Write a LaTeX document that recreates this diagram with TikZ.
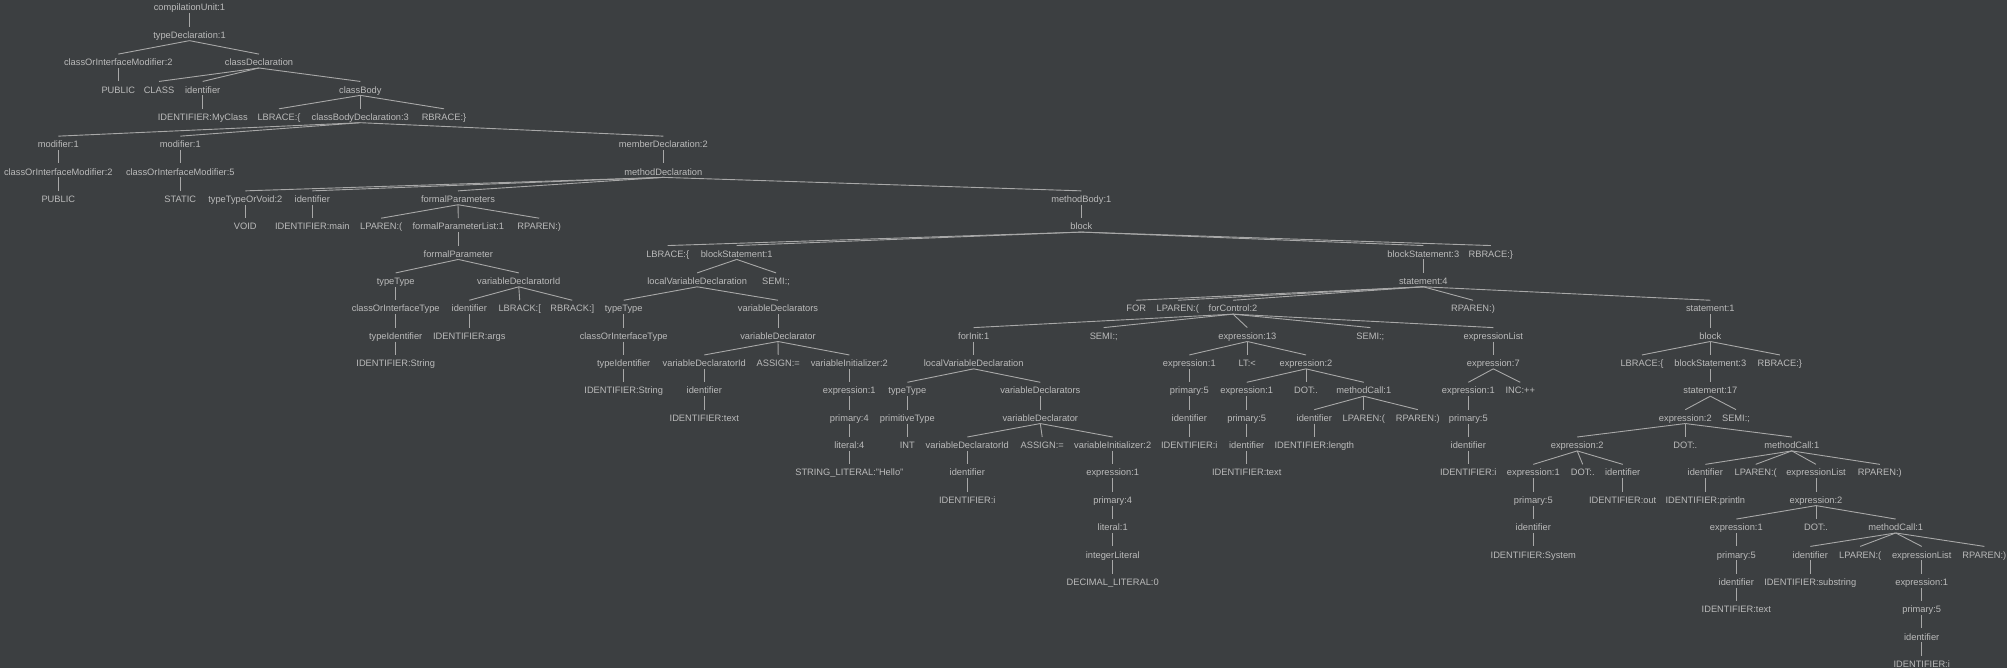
\documentclass[tikz,border=0pt]{standalone}
\usepackage{fontspec}
\setmainfont{Liberation Sans}
\definecolor{bg}{HTML}{3C3F41}
\definecolor{fg}{HTML}{BBBBBB}
\definecolor{ln}{HTML}{A8A8A8}
\tikzset{
  t/.style={anchor=base, text=fg, font=\fontsize{9.3}{10}\selectfont, inner sep=0pt, text height=11.4pt, text depth=2.1pt},
  e/.style={draw=ln, line width=0.9pt}
}
\begin{document}
\begin{tikzpicture}[x=1pt,y=-1pt]
\fill[bg] (0,0) rectangle (2007,668);
\useasboundingbox (0,0) rectangle (2007,668);
% row 0-4
\node[t] (n0) at (189.5,11) {compilationUnit:1};
\node[t] (n1) at (189.5,38.35) {typeDeclaration:1};
\node[t] (n2) at (118.3,65.7) {classOrInterfaceModifier:2};
\node[t] (n3) at (259,65.7) {classDeclaration};
\node[t] (n4) at (118.3,93.05) {PUBLIC};
\node[t] (n5) at (159,93.05) {CLASS};
\node[t] (n6) at (202.7,93.05) {identifier};
\node[t] (n7) at (360.3,93.05) {classBody};
\node[t] (n8) at (202.7,120.4) {IDENTIFIER:MyClass};
\node[t] (n9) at (279,120.4) {LBRACE:\{};
\node[t] (n10) at (360.3,120.4) {classBodyDeclaration:3};
\node[t] (n11) at (444,120.4) {RBRACE:\}};
% row 5
\node[t] (n12) at (58.3,147.75) {modifier:1};
\node[t] (n13) at (180.3,147.75) {modifier:1};
\node[t] (n14) at (663.3,147.75) {memberDeclaration:2};
% row 6
\node[t] (n15) at (58.3,175.1) {classOrInterfaceModifier:2};
\node[t] (n16) at (180.3,175.1) {classOrInterfaceModifier:5};
\node[t] (n17) at (663.3,175.1) {methodDeclaration};
% row 7
\node[t] (n18) at (58.3,202.45) {PUBLIC};
\node[t] (n19) at (180.3,202.45) {STATIC};
\node[t] (n20) at (245.3,202.45) {typeTypeOrVoid:2};
\node[t] (n21) at (312.3,202.45) {identifier};
\node[t] (n22) at (458,202.45) {formalParameters};
\node[t] (n23) at (1081.3,202.45) {methodBody:1};
% row 8
\node[t] (n24) at (245.3,229.8) {VOID};
\node[t] (n25) at (312.3,229.8) {IDENTIFIER:main};
\node[t] (n26) at (381.2,229.8) {LPAREN:(};
\node[t] (n27) at (458.3,229.8) {formalParameterList:1};
\node[t] (n28) at (539.2,229.8) {RPAREN:)};
\node[t] (n29) at (1081.3,229.8) {block};
% row 9
\node[t] (n30) at (458.3,257.15) {formalParameter};
\node[t] (n31) at (667.7,257.15) {LBRACE:\{};
\node[t] (n32) at (736.7,257.15) {blockStatement:1};
\node[t] (n33) at (1423.3,257.15) {blockStatement:3};
\node[t] (n34) at (1490.8,257.15) {RBRACE:\}};
% row 10
\node[t] (n35) at (395.7,284.5) {typeType};
\node[t] (n36) at (518.8,284.5) {variableDeclaratorId};
\node[t] (n37) at (697.2,284.5) {localVariableDeclaration};
\node[t] (n38) at (776,284.5) {SEMI:;};
\node[t] (n39) at (1423.3,284.5) {statement:4};
% row 11
\node[t] (n40) at (395.7,311.85) {classOrInterfaceType};
\node[t] (n41) at (469.3,311.85) {identifier};
\node[t] (n42) at (519.7,311.85) {LBRACK:[};
\node[t] (n43) at (572.3,311.85) {RBRACK:]};
\node[t] (n44) at (623.7,311.85) {typeType};
\node[t] (n45) at (778,311.85) {variableDeclarators};
\node[t] (n46) at (1136.2,311.85) {FOR};
\node[t] (n47) at (1177.8,311.85) {LPAREN:(};
\node[t] (n48) at (1233,311.85) {forControl:2};
\node[t] (n49) at (1473,311.85) {RPAREN:)};
\node[t] (n50) at (1710.3,311.85) {statement:1};
% row 12
\node[t] (n51) at (395.7,339.2) {typeIdentifier};
\node[t] (n52) at (469.3,339.2) {IDENTIFIER:args};
\node[t] (n53) at (623.7,339.2) {classOrInterfaceType};
\node[t] (n54) at (778,339.2) {variableDeclarator};
\node[t] (n55) at (973.7,339.2) {forInit:1};
\node[t] (n56) at (1103.7,339.2) {SEMI:;};
\node[t] (n57) at (1247.3,339.2) {expression:13};
\node[t] (n58) at (1370.3,339.2) {SEMI:;};
\node[t] (n59) at (1493.3,339.2) {expressionList};
\node[t] (n60) at (1710.3,339.2) {block};
% row 13
\node[t] (n61) at (395.7,366.55) {IDENTIFIER:String};
\node[t] (n62) at (623.7,366.55) {typeIdentifier};
\node[t] (n63) at (704.3,366.55) {variableDeclaratorId};
\node[t] (n64) at (778.2,366.55) {ASSIGN:=};
\node[t] (n65) at (849.3,366.55) {variableInitializer:2};
\node[t] (n66) at (973.7,366.55) {localVariableDeclaration};
\node[t] (n67) at (1189.3,366.55) {expression:1};
\node[t] (n68) at (1247.3,366.55) {LT:<};
\node[t] (n69) at (1306,366.55) {expression:2};
\node[t] (n70) at (1493.3,366.55) {expression:7};
\node[t] (n71) at (1642,366.55) {LBRACE:\{};
\node[t] (n72) at (1710.3,366.55) {blockStatement:3};
\node[t] (n73) at (1779.8,366.55) {RBRACE:\}};
% row 14
\node[t] (n74) at (623.7,393.9) {IDENTIFIER:String};
\node[t] (n75) at (704.3,393.9) {identifier};
\node[t] (n76) at (849.3,393.9) {expression:1};
\node[t] (n77) at (907.3,393.9) {typeType};
\node[t] (n78) at (1040.3,393.9) {variableDeclarators};
\node[t] (n79) at (1189.3,393.9) {primary:5};
\node[t] (n80) at (1246.7,393.9) {expression:1};
\node[t] (n81) at (1306,393.9) {DOT:.};
\node[t] (n82) at (1363.8,393.9) {methodCall:1};
\node[t] (n83) at (1468.3,393.9) {expression:1};
\node[t] (n84) at (1520.3,393.9) {INC:++};
\node[t] (n85) at (1710.3,393.9) {statement:17};
% row 15
\node[t] (n86) at (704.3,421.25) {IDENTIFIER:text};
\node[t] (n87) at (849.3,421.25) {primary:4};
\node[t] (n88) at (907.3,421.25) {primitiveType};
\node[t] (n89) at (1040.3,421.25) {variableDeclarator};
\node[t] (n90) at (1189.3,421.25) {identifier};
\node[t] (n91) at (1246.7,421.25) {primary:5};
\node[t] (n92) at (1314.3,421.25) {identifier};
\node[t] (n93) at (1363.8,421.25) {LPAREN:(};
\node[t] (n94) at (1417.8,421.25) {RPAREN:)};
\node[t] (n95) at (1468.3,421.25) {primary:5};
\node[t] (n96) at (1685.3,421.25) {expression:2};
\node[t] (n97) at (1736,421.25) {SEMI:;};
% row 16
\node[t] (n98) at (849.3,448.6) {literal:4};
\node[t] (n99) at (907.3,448.6) {INT};
\node[t] (n100) at (967.3,448.6) {variableDeclaratorId};
\node[t] (n101) at (1042.2,448.6) {ASSIGN:=};
\node[t] (n102) at (1112.7,448.6) {variableInitializer:2};
\node[t] (n103) at (1189.3,448.6) {IDENTIFIER:i};
\node[t] (n104) at (1246.7,448.6) {identifier};
\node[t] (n105) at (1314.3,448.6) {IDENTIFIER:length};
\node[t] (n106) at (1468.3,448.6) {identifier};
\node[t] (n107) at (1577.2,448.6) {expression:2};
\node[t] (n108) at (1685.3,448.6) {DOT:.};
\node[t] (n109) at (1791.8,448.6) {methodCall:1};
% row 17
\node[t] (n110) at (849.3,475.95) {STRING\_LITERAL:"Hello"};
\node[t] (n111) at (967.3,475.95) {identifier};
\node[t] (n112) at (1112.7,475.95) {expression:1};
\node[t] (n113) at (1246.7,475.95) {IDENTIFIER:text};
\node[t] (n114) at (1468.3,475.95) {IDENTIFIER:i};
\node[t] (n115) at (1533.3,475.95) {expression:1};
\node[t] (n116) at (1582.7,475.95) {DOT:.};
\node[t] (n117) at (1622.7,475.95) {identifier};
\node[t] (n118) at (1705.3,475.95) {identifier};
\node[t] (n119) at (1755.7,475.95) {LPAREN:(};
\node[t] (n120) at (1816,475.95) {expressionList};
\node[t] (n121) at (1879.8,475.95) {RPAREN:)};
% row 18
\node[t] (n122) at (967.3,503.3) {IDENTIFIER:i};
\node[t] (n123) at (1112.7,503.3) {primary:4};
\node[t] (n124) at (1533.3,503.3) {primary:5};
\node[t] (n125) at (1622.7,503.3) {IDENTIFIER:out};
\node[t] (n126) at (1705.3,503.3) {IDENTIFIER:println};
\node[t] (n127) at (1816,503.3) {expression:2};
% row 19
\node[t] (n128) at (1112.7,530.65) {literal:1};
\node[t] (n129) at (1533.3,530.65) {identifier};
\node[t] (n130) at (1736.3,530.65) {expression:1};
\node[t] (n131) at (1816,530.65) {DOT:.};
\node[t] (n132) at (1895.7,530.65) {methodCall:1};
% row 20
\node[t] (n133) at (1112.7,558) {integerLiteral};
\node[t] (n134) at (1533.3,558) {IDENTIFIER:System};
\node[t] (n135) at (1736.3,558) {primary:5};
\node[t] (n136) at (1810.3,558) {identifier};
\node[t] (n137) at (1860.2,558) {LPAREN:(};
\node[t] (n138) at (1921.7,558) {expressionList};
\node[t] (n139) at (1984.3,558) {RPAREN:)};
% row 21
\node[t] (n140) at (1112.7,585.35) {DECIMAL\_LITERAL:0};
\node[t] (n141) at (1736.3,585.35) {identifier};
\node[t] (n142) at (1810.3,585.35) {IDENTIFIER:substring};
\node[t] (n143) at (1921.7,585.35) {expression:1};
% rows 22-24
\node[t] (n144) at (1736.3,612.7) {IDENTIFIER:text};
\node[t] (n145) at (1921.7,612.7) {primary:5};
\node[t] (n146) at (1921.7,640.05) {identifier};
\node[t] (n147) at (1921.7,667.4) {IDENTIFIER:i};
% edges
\foreach \p/\c in {0/1,1/2,1/3,2/4,3/5,3/6,3/7,6/8,7/9,7/10,7/11,10/12,10/13,10/14,12/15,13/16,14/17,15/18,16/19,
  17/20,17/21,17/22,17/23,20/24,21/25,22/26,22/27,22/28,23/29,27/30,29/31,29/32,29/33,29/34,30/35,30/36,32/37,32/38,33/39,
  35/40,36/41,36/42,36/43,37/44,37/45,39/46,39/47,39/48,39/49,39/50,40/51,41/52,44/53,45/54,48/55,48/56,48/57,48/58,48/59,50/60,
  51/61,53/62,54/63,54/64,54/65,55/66,57/67,57/68,57/69,59/70,60/71,60/72,60/73,62/74,63/75,65/76,66/77,66/78,67/79,
  69/80,69/81,69/82,70/83,70/84,72/85,75/86,76/87,77/88,78/89,79/90,80/91,82/92,82/93,82/94,83/95,85/96,85/97,
  87/98,88/99,89/100,89/101,89/102,90/103,91/104,92/105,95/106,96/107,96/108,96/109,98/110,100/111,102/112,104/113,106/114,
  107/115,107/116,107/117,109/118,109/119,109/120,109/121,111/122,112/123,115/124,117/125,118/126,120/127,123/128,124/129,
  127/130,127/131,127/132,128/133,129/134,130/135,132/136,132/137,132/138,132/139,133/140,135/141,136/142,138/143,
  141/144,143/145,145/146,146/147}
  \draw[e] (n\p.south) -- (n\c.north);
\end{tikzpicture}
\end{document}
